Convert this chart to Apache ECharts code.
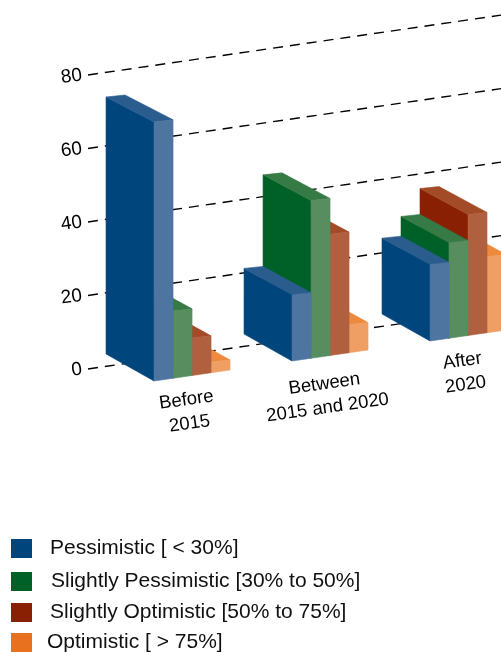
<!DOCTYPE html>
<html><head><meta charset="utf-8">
<style>html,body{margin:0;padding:0;background:#fff}#c{width:501px;height:652px}</style>
<script src="https://cdn.jsdelivr.net/npm/echarts@6/dist/echarts.min.js"></script>
</head><body><div id="c"></div>
<script>
const categories = ["Before\n2015", "Between\n2015 and 2020", "After\n2020"];
const yTicks = [0, 20, 40, 60, 80];
const pessimistic = [70.5, 18, 20.8];
const slightlyPessimistic = [18.3, 42.9, 26];
const slightlyOptimistic = [10.2, 33, 32.9];
const optimistic = [2.9, 7.6, 20.7];
const names = ["Pessimistic [ < 30%]", "Slightly Pessimistic [30% to 50%]", "Slightly Optimistic [50% to 75%]", "Optimistic [ > 75%]"];
const valueSets = [pessimistic, slightlyPessimistic, slightlyOptimistic, optimistic];
const sideColors = ["#00457c", "#006128", "#8a2003", "#e8711f"];
const frontColors = ["#4e74a0", "#578d5f", "#b0603f", "#ef9e64"];
const topColors = ["#2a5d8e", "#367a45", "#a34a27", "#ee8a3d"];
const legendTops = [538, 571, 602, 632];
const legendGaps = [18, 19, 18, 15];

const LEFT = 88, TOP = 75, BOTTOM_Y = 369, SLOPE = -0.145;
const BAR_W = 19, DEPTH_X = -48, DEPTH_Y = -26, FRONT_DY = 21.6;
const shear = (x, y) => [x, y + SLOPE * (x - LEFT)];

const chart = echarts.init(document.getElementById('c'), null, {renderer: 'canvas'});

function gridItem(params, api) {
  const v = api.value(0);
  const a = api.coord([-0.754, v]), b = api.coord([2.239, v]);
  const p = shear(a[0], a[1]), q = shear(b[0], b[1]);
  return {type: 'line', shape: {x1: p[0], y1: p[1], x2: q[0], y2: q[1]},
    style: {stroke: '#000', lineWidth: 1.4, lineDash: [10, 7], fill: null}};
}
function poly(points, fill, stroke) {
  return {type: 'polygon', shape: {points}, style: {fill, stroke, lineWidth: 0.6}};
}
function barItem(k) {
  return function (params, api) {
    const i = api.value(0), v = api.value(1);
    const base = api.coord([i, 0]), top = api.coord([i, v]);
    const x = base[0] + (k - 2) * BAR_W;
    const h = base[1] - top[1];
    const pt = (px, py) => { const s = shear(px, py); return [s[0], s[1] + FRONT_DY]; };
    const fb0 = pt(x, base[1]), fb1 = pt(x + BAR_W, base[1]);
    const ft0 = [fb0[0], fb0[1] - h], ft1 = [fb1[0], ft0[1] - 2.2];
    const bb0 = [fb0[0] + DEPTH_X, fb0[1] + DEPTH_Y - 1];
    const bt0 = [bb0[0], bb0[1] - h * 0.992];
    const bt1 = [bt0[0] + BAR_W, bt0[1] - 2];
    return {type: 'group', children: [
      poly([bb0, fb0, ft0, bt0], sideColors[k], sideColors[k]),
      poly([bt0, bt1, ft1, ft0], topColors[k], topColors[k]),
      poly([ft0, ft1, fb1, fb0], frontColors[k], frontColors[k])
    ]};
  };
}
function labelItem(params, api) {
  const i = api.value(0);
  const c = api.coord([i, 0]);
  const s = shear(c[0], c[1]);
  const off = [[-4, 58], [-4, 62], [-4, 59]][i];
  return {type: 'text', x: s[0] + off[0], y: s[1] + off[1], rotation: 8 * Math.PI / 180,
    style: {text: categories[i], fill: '#000', font: '18.5px "Liberation Sans"', align: 'center', verticalAlign: 'middle', lineHeight: 24}};
}

const barSeries = [3, 2, 1, 0].map(k => ({
  type: 'custom', name: names[k], coordinateSystem: 'cartesian2d', clip: false, z: 3,
  itemStyle: {color: sideColors[k]}, renderItem: barItem(k),
  encode: {x: 0, y: 1}, silent: true,
  data: valueSets[k].map((v, i) => [i, v])
}));

chart.setOption({
  animation: false,
  backgroundColor: '#fff',
  grid: {left: LEFT, top: TOP, width: 413, height: BOTTOM_Y - TOP},
  xAxis: {type: 'value', min: -0.754, max: 2.239, show: false},
  yAxis: {type: 'value', min: 0, max: 80, interval: 20, splitLine: {show: false}, axisLine: {show: false}, axisTick: {show: false},
    axisLabel: {rotate: 8, margin: 6, color: '#000', fontSize: 19, fontFamily: 'Liberation Sans', formatter: v => yTicks.includes(v) ? String(v) : ''}},
  legend: names.map((n, j) => ({
    show: true, data: [n], left: 11, top: legendTops[j], itemWidth: 21, itemHeight: 19, selectedMode: false, itemGap: 0,
    icon: 'rect', padding: 0, textStyle: {fontSize: 21, fontFamily: 'Liberation Sans', color: '#111', padding: [0, 0, 0, legendGaps[j] - 5]}
  })),
  series: [
    {type: 'custom', coordinateSystem: 'cartesian2d', clip: false, z: 1, silent: true, renderItem: gridItem,
      encode: {y: 0}, data: yTicks.map(v => [v])},
    ...barSeries,
    {type: 'custom', coordinateSystem: 'cartesian2d', clip: false, z: 4, silent: true, renderItem: labelItem,
      encode: {x: 0}, data: categories.map((c, i) => [i])}
  ]
});
</script></body></html>
